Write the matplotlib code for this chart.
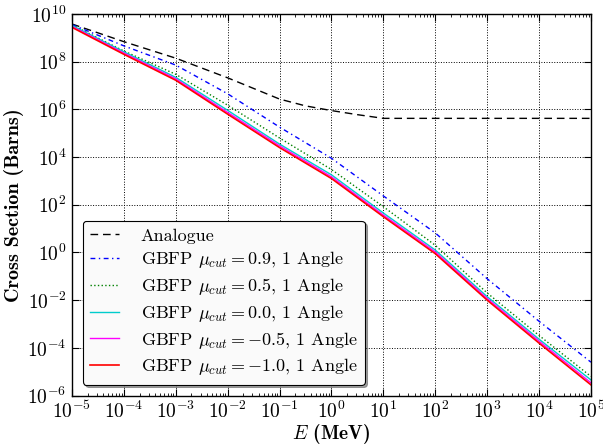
import matplotlib
matplotlib.use("Agg")
import matplotlib.pyplot as plt
from matplotlib.ticker import NullLocator, LogLocator

plt.rcParams['mathtext.fontset'] = 'cm'
plt.rcParams['axes.formatter.use_mathtext'] = True
plt.rcParams['font.family'] = ['cmr10', 'DejaVu Serif']

# energies (MeV)
energy = [1e-5, 1e-4, 1e-3, 1e-2, 1e-1, 1e0, 1e1, 1e2, 1e3, 1e4, 1e5]
analogue_energy = [1e-5, 1e-4, 1e-3, 1e-2, 1e-1, 3.16e-1, 1e0, 3.16, 1e1, 1e2, 1e3, 1e4, 1e5]

# cross sections (barns)
analogue = [3.8e9, 6.9e8, 1.4e8, 2.1e7, 2.7e6, 1.4e6, 8.9e5, 6.0e5, 4.2e5, 4.2e5, 4.2e5, 4.2e5, 4.2e5]
gbfp_09 = [3.6e9, 4.6e8, 7.2e7, 4.5e6, 1.8e5, 8.9e3, 234, 6.6, 7.9e-2, 1.3e-3, 2.5e-5]
gbfp_05 = [3.5e9, 2.8e8, 2.95e7, 1.5e6, 6.3e4, 3.0e3, 83, 2.0, 2.0e-2, 3.3e-4, 6.3e-6]
gbfp_00 = [3.3e9, 2.6e8, 2.2e7, 9.1e5, 3.5e4, 1.8e3, 45, 1.26, 1.4e-2, 2.3e-4, 4.5e-6]
gbfp_m05 = [3.0e9, 2.3e8, 1.9e7, 7.4e5, 2.95e4, 1.48e3, 37, 1.05, 1.17e-2, 1.9e-4, 3.4e-6]
gbfp_m10 = [2.75e9, 2.04e8, 1.66e7, 6.3e5, 2.5e4, 1.26e3, 31.6, 0.89, 1.0e-2, 1.58e-4, 2.8e-6]

fig = plt.figure(figsize=(6.03, 4.47), dpi=100)
ax = fig.add_axes([0.1194, 0.1152, 0.8606, 0.8535])

ax.loglog(analogue_energy, analogue, color='k', ls=(0, (5.5, 3.5)), lw=1.0, label='Analogue')
ax.loglog(energy, gbfp_09, color='b', ls=(0, (3.5, 2.5, 1, 2.5)), lw=1.0,
          label=r'GBFP $\mu_{cut} = 0.9$, 1 Angle')
ax.loglog(energy, gbfp_05, color='g', ls=':', lw=1.0, label=r'GBFP $\mu_{cut} = 0.5$, 1 Angle')
ax.loglog(energy, gbfp_00, color='#00cccc', ls='-', lw=1.0, label=r'GBFP $\mu_{cut} = 0.0$, 1 Angle')
ax.loglog(energy, gbfp_m05, color='#ff00ff', ls='-', lw=1.0, label=r'GBFP $\mu_{cut} = -0.5$, 1 Angle')
ax.loglog(energy, gbfp_m10, 'r-', lw=1.2, label=r'GBFP $\mu_{cut} = -1.0$, 1 Angle')

ax.set_xlim(1e-5, 1e5)
ax.set_ylim(1e-6, 1e10)
ax.set_xticks([10.0 ** k for k in range(-5, 6)])
ax.set_yticks([10.0 ** k for k in range(-6, 11, 2)])
ax.xaxis.set_minor_locator(LogLocator(base=10, subs=range(2, 10), numticks=100))
ax.yaxis.set_minor_locator(NullLocator())
ax.tick_params(which='both', direction='in', top=True, right=True, labelsize=14, pad=4)
ax.tick_params(which='major', length=5, width=0.8)
ax.tick_params(which='minor', length=2.5, width=0.6)
for s in ax.spines.values():
    s.set_linewidth(1.0)

ax.grid(True, which='major', color='k', ls=':', lw=0.7)

ax.set_xlabel(r'$E$ (MeV)', fontsize=14, family=['cmb10', 'DejaVu Serif'], labelpad=0)
ax.set_ylabel('Cross Section (Barns)', fontsize=14.5, family=['cmb10', 'DejaVu Serif'], labelpad=2)

leg = ax.legend(loc='lower left', fontsize=13, fancybox=True, shadow=True,
                handlelength=1.6, handletextpad=1.2, labelspacing=0.32,
                borderaxespad=0.6, framealpha=1.0)
leg.get_frame().set_facecolor('#fafafa')
leg.get_frame().set_edgecolor('k')
leg.get_frame().set_linewidth(0.8)

fig.savefig('out.png', dpi=100, facecolor='white')
